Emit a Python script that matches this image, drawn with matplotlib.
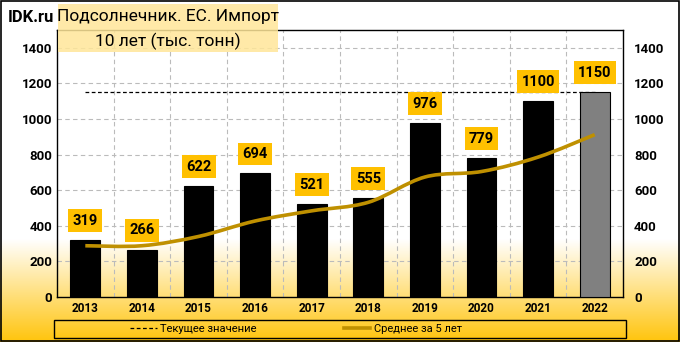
import numpy as np
import matplotlib
matplotlib.use('Agg')
import matplotlib.pyplot as plt
from matplotlib.path import Path
from matplotlib.patches import PathPatch, Rectangle
from matplotlib.lines import Line2D

plt.rcParams['font.family'] = ['Roboto', 'DejaVu Sans']

# данные
years = ['2013', '2014', '2015', '2016', '2017', '2018', '2019', '2020', '2021', '2022']
imports = [319, 266, 622, 694, 521, 555, 976, 779, 1100, 1150]
avg5 = [288, 288, 340, 427, 484, 532, 674, 705, 786, 912]
current = 1150

fig = plt.figure(figsize=(6.8, 3.42), dpi=100)

# фон: градиент от белого к оранжевому
bg = fig.add_axes([0, 0, 1, 1], zorder=-10)
n = 342
t = np.linspace(0, 1, n)  # 0 = top
g = np.clip((t - 0.70) / 0.30, 0, 1)[:, None]
white = np.array([1.0, 1.0, 1.0])
orange = np.array([1.0, 0.77, 0.05])
img = white * (1 - g[..., None]) + orange * g[..., None]
img = np.repeat(img, 4, axis=1)
bg.imshow(img, aspect='auto', extent=[0, 1, 0, 1])
bg.axis('off')
fig.patches.append(Rectangle((0.001, 0.002), 0.997, 0.995, transform=fig.transFigure,
                             fill=False, ec='black', lw=1.2))

ax = fig.add_axes([57 / 680, 45 / 342, 566 / 680, 267 / 342])
ax.set_facecolor('none')
x = np.arange(len(years))

colors = ['black'] * (len(years) - 1) + ['#808080']
ax.bar(x, imports, width=0.53, color=colors, edgecolor='black', lw=0.8, zorder=3)

# текущее значение
ax.plot(x, [current] * len(x), ls=(0, (3, 2)), color='black', lw=0.9, zorder=2)

# сглаженная средняя
pts = np.column_stack([x, avg5]).astype(float)
ext = np.vstack([pts[0], pts, pts[-1]])
verts = [tuple(pts[0])]
codes = [Path.MOVETO]
for i in range(len(pts) - 1):
    p0, p1, p2, p3 = ext[i], ext[i + 1], ext[i + 2], ext[i + 3]
    c1 = p1 + (p2 - p0) / 6
    c2 = p2 - (p3 - p1) / 6
    verts += [tuple(c1), tuple(c2), tuple(p2)]
    codes += [Path.CURVE4] * 3
ax.add_patch(PathPatch(Path(verts, codes), fill=False, ec='#BF9000', lw=2.6, zorder=4))

for xi, v in zip(x, imports):
    ax.annotate(str(v), (xi, v), xytext=(0, 9), textcoords='offset points',
                ha='center', va='bottom', fontsize=10.5, fontweight='bold',
                bbox=dict(boxstyle='square,pad=0.3', fc='#FFC000', ec='none'), zorder=6)

ax.set_xlim(-0.5, len(years) - 0.5)
ax.set_ylim(0, 1500)
ax.set_yticks(range(0, 1401, 200))
ax.set_xticks(x)
ax.set_xticklabels(years, fontsize=8.5, fontweight='bold')
ax.set_xticks(x[:-1] + 0.5, minor=True)
ax.tick_params(axis='x', which='both', length=0)
ax.tick_params(axis='y', length=0, labelsize=9.5)
for lab in ax.get_yticklabels():
    lab.set_fontweight('bold')
ax.grid(axis='y', which='major', ls=(0, (4, 3)), color='#BBBBBB', lw=0.8, zorder=0)
ax.grid(axis='x', which='minor', ls=(0, (4, 3)), color='#BBBBBB', lw=0.8, zorder=0)
for s in ax.spines.values():
    s.set_color('black')
    s.set_linewidth(1)

ax2 = ax.twinx()
ax2.set_ylim(0, 1500)
ax2.set_yticks(range(0, 1401, 200))
ax2.tick_params(axis='y', length=0, labelsize=9.5, pad=8)
for lab in ax2.get_yticklabels():
    lab.set_fontweight('bold')
ax2.spines[:].set_visible(False)

# заголовок
fig.text(8 / 680, 1 - 17 / 342, 'IDK.ru', fontsize=12, fontweight='bold', va='center', ha='left')
fig.patches.append(Rectangle((58 / 680, 1 - 52 / 342), 220 / 680, 48 / 342,
                             transform=fig.transFigure, fc='#FFE699', ec='none',
                             alpha=0.85, zorder=5))
fig.text(168 / 680, 1 - 17 / 342, 'Подсолнечник. ЕС. Импорт', fontsize=12.5,
         ha='center', va='center', zorder=6)
fig.text(168 / 680, 1 - 41 / 342, '10 лет (тыс. тонн)', fontsize=12.5,
         ha='center', va='center', zorder=6)

# легенда
fig.patches.append(Rectangle((54 / 680, 4 / 342), 572 / 680, 18 / 342,
                             transform=fig.transFigure, fill=False, ec='black', lw=1))
handles = [Line2D([], [], color='black', ls=(0, (3, 2)), lw=0.9),
           Line2D([], [], color='#BF9000', lw=2.6)]
fig.legend(handles, ['Текущее значение', 'Среднее за 5 лет'],
           loc='center', bbox_to_anchor=(296 / 680, 13 / 342),
           ncol=2, fontsize=8, frameon=False,
           handlelength=2.4, handletextpad=0.3, columnspacing=7.8, borderaxespad=0)

fig.savefig('out.png', dpi=100)
